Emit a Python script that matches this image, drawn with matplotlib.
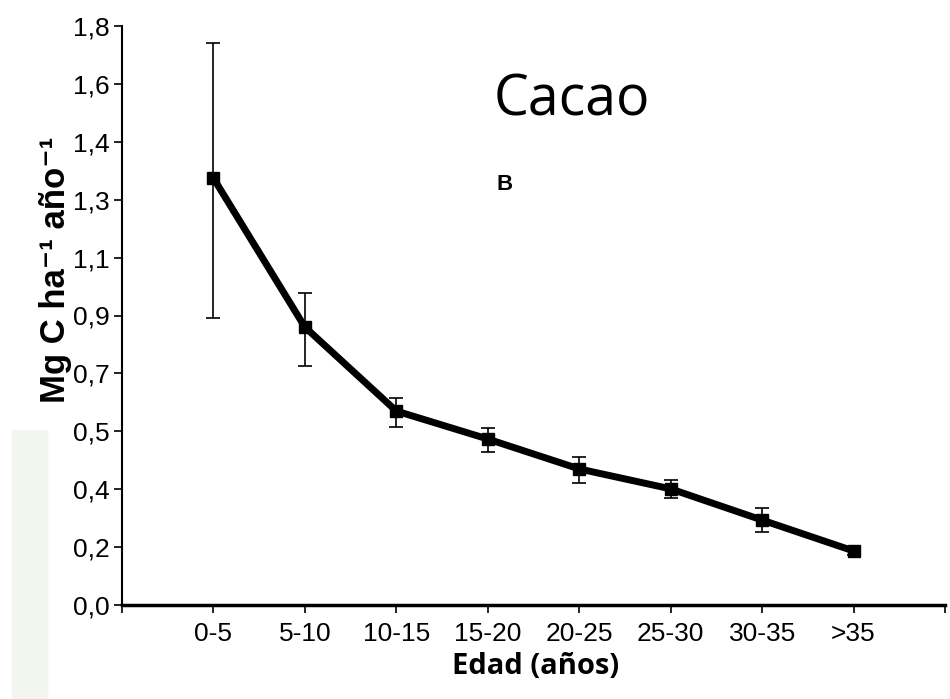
import numpy as np
import matplotlib
matplotlib.use('Agg')
import matplotlib.pyplot as plt
from matplotlib.patches import Rectangle

# data
edades = ['0-5', '5-10', '10-15', '15-20', '20-25', '25-30', '30-35', '>35']
media = [1.327, 0.864, 0.603, 0.516, 0.423, 0.361, 0.264, 0.168]
err_sup = [1.747, 0.970, 0.643, 0.550, 0.460, 0.389, 0.302, 0.177]
err_inf = [0.892, 0.743, 0.553, 0.476, 0.379, 0.333, 0.227, 0.155]
yticks = [0.0, 0.18, 0.36, 0.54, 0.72, 0.90, 1.08, 1.26, 1.44, 1.62, 1.80]
ylabels = ['0,0', '0,2', '0,4', '0,5', '0,7', '0,9', '1,1', '1,3', '1,4', '1,6', '1,8']

plt.rcParams['font.family'] = ['Liberation Sans', 'DejaVu Sans']

fig = plt.figure(figsize=(9.5, 6.99), dpi=100)

# light green strip at the left edge
fig.patches.append(Rectangle((12/950, 0), 35/950, 1 - 430/699,
                             transform=fig.transFigure, color='#f1f7ee', zorder=0))

ax = fig.add_axes([122/950, 94/699, 823/950, 579/699])

x = np.arange(1, len(edades) + 1)
media = np.array(media)
yerr = [media - np.array(err_inf), np.array(err_sup) - media]

ax.errorbar(x, media, yerr=yerr, fmt='none', ecolor='black', elinewidth=1.2,
            capsize=5, capthick=1.2, zorder=2)
ax.plot(x, media, color='black', linewidth=5, marker='s', markersize=8, zorder=3)

ax.set_xlim(0, 9)
ax.set_ylim(0, 1.8)
ax.set_xticks(range(0, 10))
ax.set_xticklabels([''] + edades + [''])
ax.set_yticks(yticks)
ax.set_yticklabels(ylabels)
ax.tick_params(axis='both', labelsize=19, length=6, width=1.2, direction='out')
ax.tick_params(axis='x', pad=6)
ax.tick_params(axis='y', pad=3)

ax.spines['top'].set_visible(False)
ax.spines['right'].set_visible(False)
ax.spines['left'].set_linewidth(1.5)
ax.spines['bottom'].set_linewidth(2.5)

ax.text(4.06, 1.523, 'Cacao', fontsize=40, family='Open Sans', va='baseline')
ax.text(4.10, 1.29, 'B', fontsize=16, fontweight='bold', va='baseline')

fig.text(536/950, 1 - 667/699, 'Edad (años)', fontsize=21, fontweight='bold',
         family='Open Sans', ha='center', va='center')
fig.text(55/950, 1 - 270/699, 'Mg C ha⁻¹ año⁻¹',
         fontsize=25, fontweight='bold', rotation=90, ha='center', va='center',
         bbox=dict(facecolor='white', edgecolor='none', pad=2))

fig.savefig('out.png', dpi=100)
